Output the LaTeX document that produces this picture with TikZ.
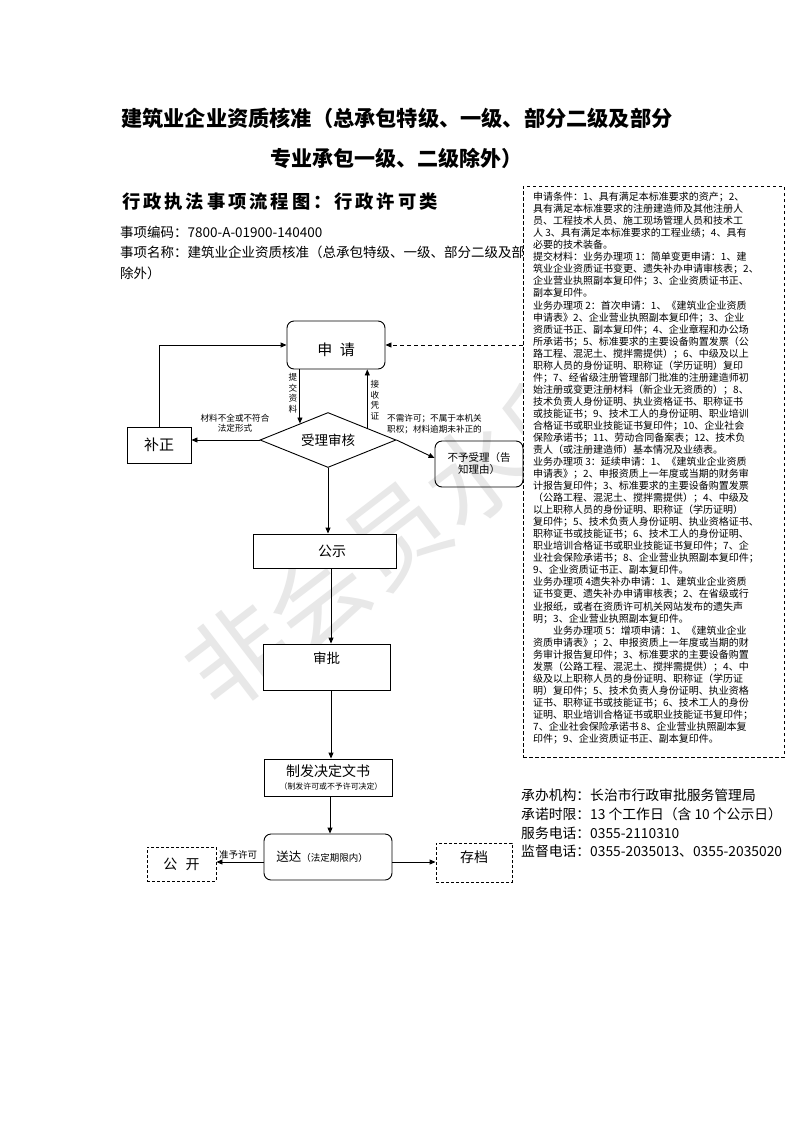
\documentclass[tikz,border=0pt]{standalone}
\usepackage{fontspec}
\setmainfont{Noto Sans CJK SC}
\newfontfamily\spacedfont[LetterSpace=16]{Noto Sans CJK SC}
\usetikzlibrary{arrows.meta,shapes.geometric,calc}
\tikzset{
  arr/.style={-{Triangle[length=6pt,width=5pt]}, line width=0.9pt},
  fbox/.style={draw, line width=0.9pt, fill=white},
  rbox/.style={fbox, rounded corners=7pt},
  dbox/.style={draw, dash pattern=on 3pt off 2pt, line width=0.9pt, fill=white},
  lbl/.style={font=\fontsize{8.6}{10.5}\selectfont, align=center},
}
\begin{document}
\begin{tikzpicture}[x=1pt,y=-1pt, every node/.style={inner sep=0pt}]
\useasboundingbox (0,0) rectangle (793,1122);
\fill[white] (0,0) rectangle (793,1122);

% watermark
\node[rotate=37.5, text=black!9, font=\fontsize{100}{100}\selectfont] (wm) at (396,534) {非会员水印};

% titles
\node[anchor=west, font=\fontsize{21.2}{21.2}\selectfont\bfseries] (t1) at (121,118) {建筑业企业资质核准（总承包特级、一级、部分二级及部分};
\node[anchor=west, font=\fontsize{21}{21}\selectfont\bfseries] (t2) at (270,158) {专业承包一级、二级除外）};
\node[anchor=west, font=\spacedfont\fontsize{18.3}{18.3}\selectfont\bfseries] (t3) at (122,202) {行政执法事项流程图：行政许可类};
\node[anchor=west, font=\fontsize{13.5}{13.5}\selectfont] (code) at (120,232) {事项编码：7800-A-01900-140400};
\node[anchor=west, font=\fontsize{13.5}{13.5}\selectfont] (name1) at (120,252) {事项名称：建筑业企业资质核准（总承包特级、一级、部分二级及部};
\node[anchor=west, font=\fontsize{13.5}{13.5}\selectfont] (name2) at (120,273) {除外）};

% condition box
\node[draw, dash pattern=on 3.5pt off 2.5pt, line width=0.9pt, fill=white, minimum width=261pt, minimum height=571pt] (cond) at (653.5,471.5) {};
\node[anchor=north west, align=left, font=\fontsize{10}{12.04}\selectfont] (condtext) at (533,192) {申请条件：1、具有满足本标准要求的资产；2、\\
具有满足本标准要求的注册建造师及其他注册人\\
员、工程技术人员、施工现场管理人员和技术工\\
人 3、具有满足本标准要求的工程业绩；4、具有\\
必要的技术装备。\\
提交材料：业务办理项 1：简单变更申请：1、建\\
筑业企业资质证书变更、遗失补办申请审核表；2、\\
企业营业执照副本复印件；3、企业资质证书正、\\
副本复印件。\\
业务办理项 2：首次申请：1、《建筑业企业资质\\
申请表》2、企业营业执照副本复印件；3、企业\\
资质证书正、副本复印件；4、企业章程和办公场\\
所承诺书；5、标准要求的主要设备购置发票（公\\
路工程、混泥土、搅拌需提供）；6、中级及以上\\
职称人员的身份证明、职称证（学历证明）复印\\
件；7、经省级注册管理部门批准的注册建造师初\\
始注册或变更注册材料（新企业无资质的）；8、\\
技术负责人身份证明、执业资格证书、职称证书\\
或技能证书；9、技术工人的身份证明、职业培训\\
合格证书或职业技能证书复印件；10、企业社会\\
保险承诺书；11、劳动合同备案表；12、技术负\\
责人（或注册建造师）基本情况及业绩表。\\
业务办理项 3：延续申请：1、《建筑业企业资质\\
申请表》；2、申报资质上一年度或当期的财务审\\
计报告复印件；3、标准要求的主要设备购置发票\\
（公路工程、混泥土、搅拌需提供）；4、中级及\\
以上职称人员的身份证明、职称证（学历证明）\\
复印件；5、技术负责人身份证明、执业资格证书、\\
职称证书或技能证书；6、技术工人的身份证明、\\
职业培训合格证书或职业技能证书复印件；7、企\\
业社会保险承诺书；8、企业营业执照副本复印件；\\
9、企业资质证书正、副本复印件。\\
业务办理项 4遗失补办申请：1、建筑业企业资质\\
证书变更、遗失补办申请审核表；2、在省级或行\\
业报纸，或者在资质许可机关网站发布的遗失声\\
明；3、企业营业执照副本复印件。\\
\hspace*{2em}业务办理项 5：增项申请：1、《建筑业企业\\
资质申请表》；2、申报资质上一年度或当期的财\\
务审计报告复印件；3、标准要求的主要设备购置\\
发票（公路工程、混泥土、搅拌需提供）；4、中\\
级及以上职称人员的身份证明、职称证（学历证\\
明）复印件；5、技术负责人身份证明、执业资格\\
证书、职称证书或技能证书；6、技术工人的身份\\
证明、职业培训合格证书或职业技能证书复印件；\\
7、企业社会保险承诺书 8、企业营业执照副本复\\
印件；9、企业资质证书正、副本复印件。};

% flow nodes
\node[rbox, minimum width=98pt, minimum height=48pt, text height=22pt, font=\fontsize{15}{15}\selectfont] (sq) at (336,345) {申\hspace{0.5em}请};
\node[fbox, minimum width=64pt, minimum height=36pt, font=\fontsize{15}{15}\selectfont] (bz) at (159,445) {补正};
\node[diamond, draw, fill=white, line width=0.9pt, aspect=2.47, minimum width=136pt, minimum height=55pt, font=\fontsize{13.5}{13.5}\selectfont] (sh) at (328,440) {受理审核};
\node[draw, line width=0.9pt, rounded corners=7pt, minimum width=88pt, minimum height=46pt, align=center, font=\fontsize{10.5}{12}\selectfont] (by) at (479,464) {不予受理（告\\知理由）};
\node[fbox, minimum width=143pt, minimum height=34pt, font=\fontsize{14}{14}\selectfont] (gs) at (324.5,551) {\hspace*{15pt}公示};
\node[fbox, minimum width=127pt, minimum height=46pt, text depth=18pt, font=\fontsize{13.5}{13.5}\selectfont] (sp) at (326.5,667) {审批};
\node[fbox, minimum width=128pt, minimum height=37pt, align=center] (zf) at (328,777.5) {{\fontsize{14}{14}\selectfont 制发决定文书}\\[1pt]{\fontsize{7.9}{7.9}\selectfont\hspace*{6pt}（制发许可或不予许可决定）}};
\node[rbox, minimum width=128pt, minimum height=46pt] (sd) at (328,857) {{\fontsize{12.5}{12.5}\selectfont 送达}{\fontsize{9.5}{9.5}\selectfont （法定期限内）}\hspace*{12pt}};
\node[dbox, minimum width=69pt, minimum height=34pt, font=\fontsize{14}{14}\selectfont] (gk) at (181.5,864) {公\hspace{0.6em}开};
\node[dbox, minimum width=76pt, minimum height=39pt, text depth=12.5pt, font=\fontsize{14}{14}\selectfont] (cd) at (474,862.5) {存档};

% labels
\node[lbl] (l1) at (293,393) {提\\交\\资\\料};
\node[lbl] (l2) at (375,400) {接\\收\\凭\\证};
\node[lbl] (l3) at (235,423) {材料不全或不符合\\法定形式};
\node[lbl, align=left, anchor=west] (l4) at (387,424) {不需许可；不属于本机关\\职权；材料逾期未补正的};
\node[font=\fontsize{9.5}{9.5}\selectfont] (l5) at (238,855) {准予许可};

% connectors
\draw[arr, dash pattern=on 4pt off 3pt] (cond.west |- sq.east) -- (sq.east);
\draw[arr] (bz.north) |- (sq.west);
\coordinate (p1) at ($(sh.north)!0.41!(sh.west)$);
\draw[arr] (sq.south -| p1) -- (p1);
\coordinate (p2) at ($(sh.north)!0.574!(sh.east)$);
\draw[arr] (p2) -- (sq.south -| p2);
\draw[arr] (sh.west) -- (sh.west -| bz.east);
\draw[arr] (sh.east) -- ([yshift=6pt]by.west);
\draw[arr] (sh.south) -- (sh.south |- gs.north);
\draw[arr] ([xshift=6.5pt]gs.south) -- ([xshift=6.5pt]gs.south |- sp.north);
\draw[arr] ([xshift=4.5pt]sp.south) -- ([xshift=4.5pt]sp.south |- zf.north);
\draw[arr] ([xshift=2pt]zf.south) -- ([xshift=2pt]zf.south |- sd.north);
\draw[arr] ([yshift=-5pt]sd.west) -- ([yshift=-5pt]sd.west -| gk.east);
\draw[arr] ([yshift=-5pt]sd.east) -- ([yshift=-5pt]sd.east -| cd.west);

% info
\node[anchor=north west, align=left, font=\fontsize{13.8}{18.6}\selectfont] (info) at (521,789) {承办机构：长治市行政审批服务管理局\\
承诺时限：13 个工作日（含 10 个公示日）\\
服务电话：0355-2110310\\
监督电话：0355-2035013、0355-2035020};
\end{tikzpicture}
\end{document}
